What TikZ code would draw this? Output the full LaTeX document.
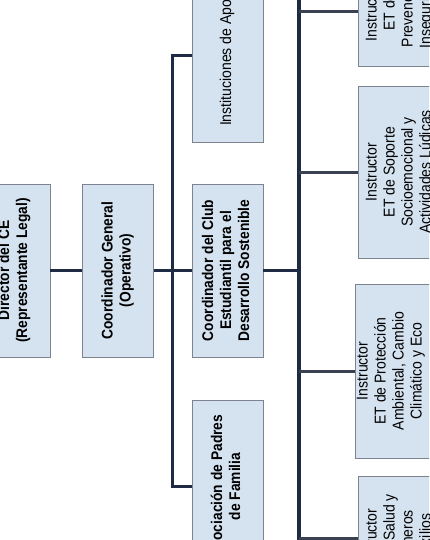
\documentclass[tikz,border=0pt]{standalone}
\usepackage{fontspec}
\setmainfont{Liberation Sans}
\usepackage{graphicx}
\definecolor{boxfill}{HTML}{D5E3F1}
\definecolor{boxline}{HTML}{7D838F}
\definecolor{conn}{HTML}{1F2B45}
\definecolor{conngray}{HTML}{3A4150}
\newcommand{\rtxt}[1]{\rotatebox{90}{\scalebox{1}[1.12]{\fontsize{14}{16.07}\selectfont\begin{tabular}{@{}c@{}}#1\end{tabular}}}}
\newcommand{\rtxtb}[1]{\rotatebox{90}{\scalebox{1}[1.12]{\fontsize{13.8}{16.07}\selectfont\bfseries\begin{tabular}{@{}c@{}}#1\end{tabular}}}}
\tikzset{
  orgbox/.style={draw=boxline, line width=0.8pt, fill=boxfill, rectangle, inner sep=0pt, minimum width=71pt},
  link/.style={draw=conn, line width=3pt},
  mainlink/.style={draw=conn, line width=4pt},
  sidelink/.style={draw=conngray, line width=3pt}
}
\begin{document}
\begin{tikzpicture}[x=1pt,y=-1pt]
\useasboundingbox (0,0) rectangle (429,540);
\clip (0,0) rectangle (429,540);
\fill[white] (0,0) rectangle (429,540);

% left column boxes
\node[orgbox, minimum height=173pt] (dir) at (14.5,270.5) {\rtxtb{Director del CE\\(Representante Legal)}};
\node[orgbox, minimum height=173pt] (cg) at (118,270.5) {\rtxtb{Coordinador General\\(Operativo)}};
\node[orgbox, minimum height=173pt] (inst) at (227.5,55.5) {\rtxt{Instituciones de Apoyo}};
\node[orgbox, minimum height=173pt] (club) at (227.5,270.5) {\rtxtb{Coordinador del Club\\Estudiantil para el\\Desarrollo Sostenible}};
\node[orgbox, minimum height=173pt] (asoc) at (227.5,486.5) {\rtxtb{Asociación de Padres\\de Familia}};

% right column boxes
\node[orgbox, minimum width=84pt, minimum height=108pt] (b1) at (400,12) {\rtxt{Instructor\\ET de\\Prevención\\Inseguridad}};
\node[orgbox, minimum width=84pt, minimum height=172pt] (b2) at (400,172) {\rtxt{Instructor\\ET de Soporte\\Socioemocional y\\Actividades Lúdicas}};
\node[orgbox, minimum width=84pt, minimum height=174pt] (b3) at (400,371) {\rtxt{Instructor\\ET de Protección\\Ambiental, Cambio\\Climático y Eco\\\mbox{}}};
\node[orgbox, minimum width=84pt, minimum height=124pt] (b4) at (400,538) {\rtxt{Instructor\\ET de Salud y\\Primeros\\Auxilios}};

% trunks
\coordinate (t1) at (172,270.5);
\coordinate (t2a) at (299,-10);
\coordinate (t2b) at (299,550);

\draw[link] (dir.east) -- (cg.west);
\draw[link] (cg.east) -- (club.west);
\draw[link] (inst.west) -| (t1) |- (asoc.west);
\draw[link] (club.east) -- (club.east -| t2a);
\draw[mainlink] (t2a) -- (t2b);
\draw[sidelink] (b1.west -| t2a) -- (b1.west);
\draw[sidelink] (b2.west -| t2a) -- (b2.west);
\draw[sidelink] (b3.west -| t2a) -- (b3.west);
\draw[sidelink] (b4.west -| t2a) -- (b4.west);
\end{tikzpicture}
\end{document}
